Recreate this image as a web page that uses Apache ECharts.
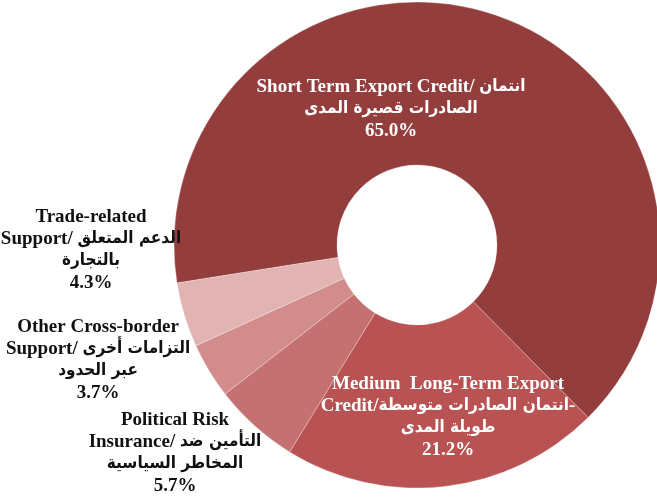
<!DOCTYPE html>
<html>
<head>
<meta charset="utf-8">
<script src="https://cdn.jsdelivr.net/npm/echarts@6/dist/echarts.min.js"></script>
<style>
html,body{margin:0;padding:0;background:#fff;}
#main{width:657px;height:501px;}
</style>
</head>
<body>
<div id="main"></div>
<script>
// slice order, clockwise from the left edge
var names = ['Short Term Export Credit', 'Medium Long-Term Export Credit', 'Political Risk Insurance', 'Other Cross-border Support', 'Trade-related Support'];
var values = [65.0, 21.2, 5.7, 3.7, 4.3];
var pctLabels = ['65.0%', '21.2%', '5.7%', '3.7%', '4.3%'];
// label lines, each split into pieces in the order they appear left to right
var labelLines = [
    [['Short Term Export Credit/ ', 'انتمان'], ['الصادرات قصيرة المدى']],
    [['Medium  Long-Term Export'], ['Credit/', 'انتمان الصادرات متوسطة', '-'], ['طويلة المدى']],
    [['Political Risk'], ['Insurance/ ', 'التأمين ضد'], ['المخاطر السياسية']],
    [['Other Cross-border'], ['Support/ ', 'التزامات أخرى'], ['عبر الحدود']],
    [['Trade-related'], ['Support/ ', 'الدعم المتعلق'], ['بالتجارة']]
];
var colors = ['#943d3d', '#b95353', '#c67171', '#d38c8c', '#e1b3b3'];
var textColors = ['#ffffff', '#ffffff', '#111111', '#111111', '#111111'];

// where each label block is centred
var labelPos = [[391, 109], [448, 417], [175, 453], [98, 360], [91, 250]];

var arabic = /[\u0600-\u06FF]/;

function richLine(pieces) {
    var s = '';
    for (var k = 0; k < pieces.length; k++) {
        s += '{' + (arabic.test(pieces[k]) ? 'ar' : 'en') + '|' + pieces[k] + '}';
    }
    return s;
}

var myChart = echarts.init(document.getElementById('main'));

var data = [];
for (var i = 0; i < names.length; i++) {
    var c = textColors[i];
    data.push({
        name: names[i],
        value: values[i],
        itemStyle: { color: colors[i] },
        label: {
            color: c,
            rich: {
                en: { color: c, fontFamily: '"Liberation Serif", serif', fontWeight: 'bold', fontSize: 19, lineHeight: 22 },
                ar: { color: c, fontFamily: '"DejaVu Sans Condensed", "DejaVu Sans", sans-serif', fontWeight: 'bold', fontSize: 17, lineHeight: 22 }
            }
        }
    });
}

option = {
    animation: false,
    series: [
        {
            type: 'pie',
            center: [417, 245],
            radius: [80, 243],
            startAngle: 189,
            clockwise: true,
            avoidLabelOverlap: false,
            itemStyle: {
                borderColor: 'rgba(255,255,255,0.45)',
                borderWidth: 0.6
            },
            label: {
                show: true,
                position: 'inside',
                fontFamily: '"Liberation Serif", serif',
                fontWeight: 'bold',
                fontSize: 19,
                lineHeight: 22,
                align: 'center',
                textBorderWidth: 0,
                formatter: function (p) {
                    var lines = labelLines[p.dataIndex];
                    var out = [];
                    for (var j = 0; j < lines.length; j++) {
                        out.push(richLine(lines[j]));
                    }
                    out.push('{en|' + pctLabels[p.dataIndex] + '}');
                    return out.join('\n');
                }
            },
            labelLine: { show: false },
            labelLayout: function (p) {
                var pos = labelPos[p.dataIndex];
                return { x: pos[0], y: pos[1], align: 'center', verticalAlign: 'middle' };
            },
            emphasis: { disabled: true },
            data: data
        }
    ]
};
myChart.setOption(option);
</script>
</body>
</html>
